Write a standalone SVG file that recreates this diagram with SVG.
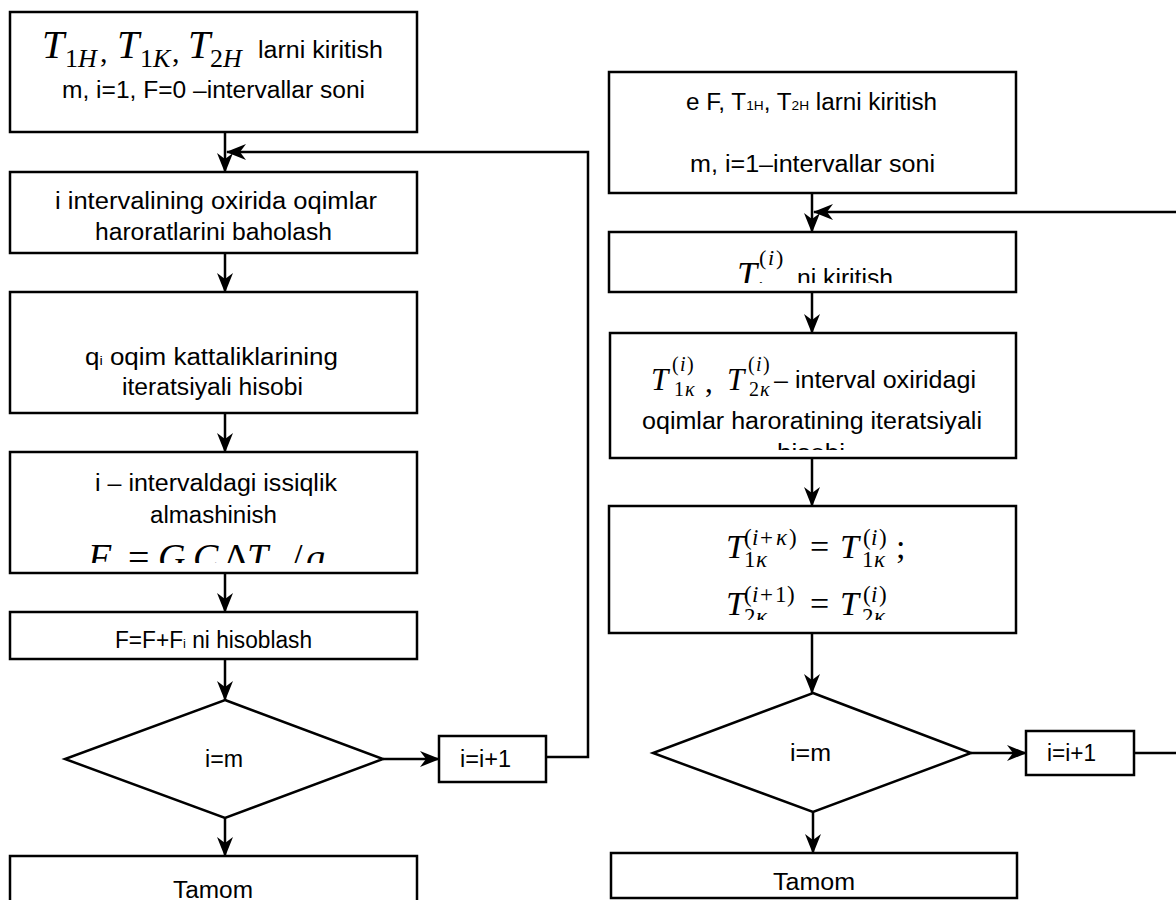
<svg xmlns="http://www.w3.org/2000/svg" width="1176" height="900" viewBox="0 0 1176 900">
<style>
.box{fill:#fff;stroke:#000;stroke-width:2.5}
.ln{fill:none;stroke:#000;stroke-width:2.5}
.t{font-family:"Liberation Sans",Arial,sans-serif;font-size:23px;fill:#000}
.m{font-family:"Liberation Serif","Times New Roman",serif;font-style:italic;fill:#000}
.u{font-style:normal}
</style>
<defs>
<marker id="ah" markerWidth="20" markerHeight="16" refX="19" refY="8" orient="auto" markerUnits="userSpaceOnUse"><path d="M0,0 L20,8 L0,16 L6,8 Z" fill="#000"/></marker>
<clipPath id="c4"><rect x="10" y="452" width="407" height="111"/></clipPath>
<clipPath id="cr2"><rect x="609" y="232" width="407" height="51"/></clipPath>
<clipPath id="cr3"><rect x="610" y="333" width="406" height="117"/></clipPath>
<clipPath id="cr4"><rect x="609" y="506" width="407" height="114"/></clipPath>
</defs>

<g id="connectors">
<path class="ln" d="M225,132 V172" marker-end="url(#ah)"/>
<path class="ln" d="M225,253 V292" marker-end="url(#ah)"/>
<path class="ln" d="M225,413 V452" marker-end="url(#ah)"/>
<path class="ln" d="M225,573 V612" marker-end="url(#ah)"/>
<path class="ln" d="M225,659 V700" marker-end="url(#ah)"/>
<path class="ln" d="M225,818 V856" marker-end="url(#ah)"/>
<path class="ln" d="M383,759 H439" marker-end="url(#ah)"/>
<path class="ln" d="M546,757 H588 V152 H227" marker-end="url(#ah)"/>
<path class="ln" d="M812,193 V232" marker-end="url(#ah)"/>
<path class="ln" d="M812,292 V333" marker-end="url(#ah)"/>
<path class="ln" d="M812,458 V506" marker-end="url(#ah)"/>
<path class="ln" d="M812,633 V693" marker-end="url(#ah)"/>
<path class="ln" d="M813,812 V853" marker-end="url(#ah)"/>
<path class="ln" d="M971,753 H1026" marker-end="url(#ah)"/>
<path class="ln" d="M1134,753 H1180"/>
<path class="ln" d="M1180,212 H814" marker-end="url(#ah)"/>
</g>

<g id="L1">
<rect class="box" x="10" y="12" width="407" height="120"/>
<text class="m" font-size="40" y="58"><tspan x="42">T</tspan><tspan x="65" y="67" font-size="26"><tspan class="u">1</tspan>H</tspan><tspan class="u" x="100" y="62" font-size="30">,</tspan><tspan x="117" y="58">T</tspan><tspan x="140" y="67" font-size="26"><tspan class="u">1</tspan>K</tspan><tspan class="u" x="172" y="62" font-size="30">,</tspan><tspan x="188" y="58">T</tspan><tspan x="210" y="67" font-size="26"><tspan class="u">2</tspan>H</tspan></text>
<text class="t" x="258" y="58" font-size="21" textLength="125" lengthAdjust="spacingAndGlyphs">larni kiritish</text>
<text class="t" x="62" y="98" textLength="303" lengthAdjust="spacingAndGlyphs">m, i=1, F=0 –intervallar  soni</text>
</g>

<g id="L2">
<rect class="box" x="10" y="172" width="407" height="81"/>
<text class="t" x="55" y="209" textLength="322" lengthAdjust="spacingAndGlyphs">i intervalining oxirida  oqimlar</text>
<text class="t" x="95" y="240" textLength="237" lengthAdjust="spacingAndGlyphs">haroratlarini baholash</text>
</g>

<g id="L3">
<rect class="box" x="10" y="292" width="407" height="121"/>
<text class="t" x="85" y="365" textLength="253" lengthAdjust="spacingAndGlyphs">q<tspan font-size="13">i</tspan>  oqim kattaliklarining</text>
<text class="t" x="122" y="395" textLength="181" lengthAdjust="spacingAndGlyphs">iteratsiyali hisobi</text>
</g>

<g id="L4">
<rect class="box" x="10" y="452" width="407" height="121"/>
<text class="t" x="95" y="491" textLength="242" lengthAdjust="spacingAndGlyphs">i – intervaldagi  issiqlik</text>
<text class="t" x="150" y="523" textLength="127" lengthAdjust="spacingAndGlyphs">almashinish</text>
<g clip-path="url(#c4)">
<text class="m" font-size="38" y="570"><tspan x="88">F</tspan><tspan x="114" y="578" font-size="16">i</tspan><tspan class="u" x="128" y="570">=</tspan><tspan x="158">G</tspan><tspan class="u" x="185" y="578" font-size="16">1</tspan><tspan x="193" y="570">C</tspan><tspan class="u" x="218" y="578" font-size="16">1</tspan><tspan class="u" x="224" y="570">Δ</tspan><tspan x="247">T</tspan><tspan x="268" y="578" font-size="16"><tspan class="u">1</tspan>i</tspan><tspan class="u" x="292" y="570">/</tspan><tspan x="306">q</tspan><tspan x="327" y="578" font-size="16">i</tspan></text>
</g>
</g>

<g id="L5">
<rect class="box" x="10" y="612" width="407" height="47"/>
<text class="t" x="115" y="648" textLength="197" lengthAdjust="spacingAndGlyphs">F=F+F<tspan font-size="13">i</tspan> ni hisoblash</text>
</g>

<g id="L6">
<polygon class="box" points="225,700 383,759 225,818 65,759"/>
<text class="t" x="205" y="767" textLength="38" lengthAdjust="spacingAndGlyphs">i=m</text>
</g>

<g id="L7">
<rect class="box" x="439" y="736" width="107" height="46"/>
<text class="t" x="460" y="767" font-size="22" textLength="51" lengthAdjust="spacingAndGlyphs">i=i+1</text>
</g>

<g id="L8">
<rect class="box" x="10" y="856" width="407" height="60"/>
<text class="t" x="173" y="898" textLength="80" lengthAdjust="spacingAndGlyphs">Tamom</text>
</g>

<g id="R1">
<rect class="box" x="609" y="72" width="407" height="121"/>
<text class="t" x="686" y="110" font-size="21" textLength="251" lengthAdjust="spacingAndGlyphs">e F, T<tspan font-size="13">1H</tspan>, T<tspan font-size="13">2H</tspan> larni kiritish</text>
<text class="t" x="690" y="172" font-size="21" textLength="245" lengthAdjust="spacingAndGlyphs">m, i=1–intervallar  soni</text>
</g>

<g id="R2">
<rect class="box" x="609" y="232" width="407" height="60"/>
<g clip-path="url(#cr2)">
<text class="m" font-size="36" y="287"><tspan x="737">T</tspan><tspan x="757" y="296" font-size="20">i</tspan><tspan class="u" x="759" y="265" font-size="22">(</tspan><tspan x="768" y="265" font-size="22">i</tspan><tspan class="u" x="776" y="265" font-size="22">)</tspan></text>
<text class="t" x="797" y="286" font-size="21" textLength="96" lengthAdjust="spacingAndGlyphs">ni kiritish</text>
</g>
</g>

<g id="R3">
<rect class="box" x="610" y="333" width="406" height="125"/>
<g clip-path="url(#cr3)">
<text class="m" font-size="31" y="390"><tspan x="651">T</tspan><tspan class="u" x="672" y="371" font-size="20">(</tspan><tspan x="680" y="371" font-size="20">i</tspan><tspan class="u" x="687" y="371" font-size="20">)</tspan><tspan class="u" x="674" y="396" font-size="20">1</tspan><tspan x="685" y="396" font-size="20">κ</tspan><tspan class="u" x="705" y="392">,</tspan><tspan x="727" y="390">T</tspan><tspan class="u" x="748" y="371" font-size="20">(</tspan><tspan x="756" y="371" font-size="20">i</tspan><tspan class="u" x="763" y="371" font-size="20">)</tspan><tspan class="u" x="749" y="396" font-size="20">2</tspan><tspan x="760" y="396" font-size="20">κ</tspan></text>
<text class="t" x="774" y="388" font-size="21" textLength="202" lengthAdjust="spacingAndGlyphs">– interval oxiridagi</text>
<text class="t" x="642" y="429" font-size="21" textLength="340" lengthAdjust="spacingAndGlyphs">oqimlar haroratining iteratsiyali</text>
<text class="t" x="777" y="461" font-size="21" textLength="68" lengthAdjust="spacingAndGlyphs">hisobi</text>
</g>
</g>

<g id="R4">
<rect class="box" x="609" y="506" width="407" height="127"/>
<g clip-path="url(#cr4)">
<text class="m" font-size="34" y="558"><tspan x="726">T</tspan><tspan class="u" x="744" y="545" font-size="23">(</tspan><tspan x="752" y="545" font-size="23">i</tspan><tspan class="u" x="760" y="545" font-size="23">+</tspan><tspan x="776" y="545" font-size="23">κ</tspan><tspan class="u" x="789" y="545" font-size="23">)</tspan><tspan class="u" x="744" y="567" font-size="23">1</tspan><tspan x="756" y="567" font-size="23">κ</tspan><tspan class="u" x="810" y="558">=</tspan><tspan x="840" y="558">T</tspan><tspan class="u" x="863" y="545" font-size="23">(</tspan><tspan x="871" y="545" font-size="23">i</tspan><tspan class="u" x="879" y="545" font-size="23">)</tspan><tspan class="u" x="862" y="567" font-size="23">1</tspan><tspan x="874" y="567" font-size="23">κ</tspan><tspan class="u" x="896" y="558">;</tspan></text>
<text class="m" font-size="34" y="615"><tspan x="726">T</tspan><tspan class="u" x="744" y="602" font-size="23">(</tspan><tspan x="752" y="602" font-size="23">i</tspan><tspan class="u" x="760" y="602" font-size="23">+</tspan><tspan class="u" x="775" y="602" font-size="23">1</tspan><tspan class="u" x="787" y="602" font-size="23">)</tspan><tspan class="u" x="744" y="624" font-size="23">2</tspan><tspan x="756" y="624" font-size="23">κ</tspan><tspan class="u" x="810" y="615">=</tspan><tspan x="840" y="615">T</tspan><tspan class="u" x="863" y="602" font-size="23">(</tspan><tspan x="871" y="602" font-size="23">i</tspan><tspan class="u" x="879" y="602" font-size="23">)</tspan><tspan class="u" x="862" y="624" font-size="23">2</tspan><tspan x="874" y="624" font-size="23">κ</tspan></text>
</g>
</g>

<g id="R5">
<polygon class="box" points="813,693 971,753 813,812 653,753"/>
<text class="t" x="790" y="761" font-size="22" textLength="41" lengthAdjust="spacingAndGlyphs">i=m</text>
</g>

<g id="R6">
<rect class="box" x="1026" y="731" width="108" height="44"/>
<text class="t" x="1047" y="761" font-size="18" textLength="49" lengthAdjust="spacingAndGlyphs">i=i+1</text>
</g>

<g id="R7">
<rect class="box" x="611" y="853" width="406" height="45"/>
<text class="t" x="773" y="890" font-size="22" textLength="82" lengthAdjust="spacingAndGlyphs">Tamom</text>
</g>
</svg>
